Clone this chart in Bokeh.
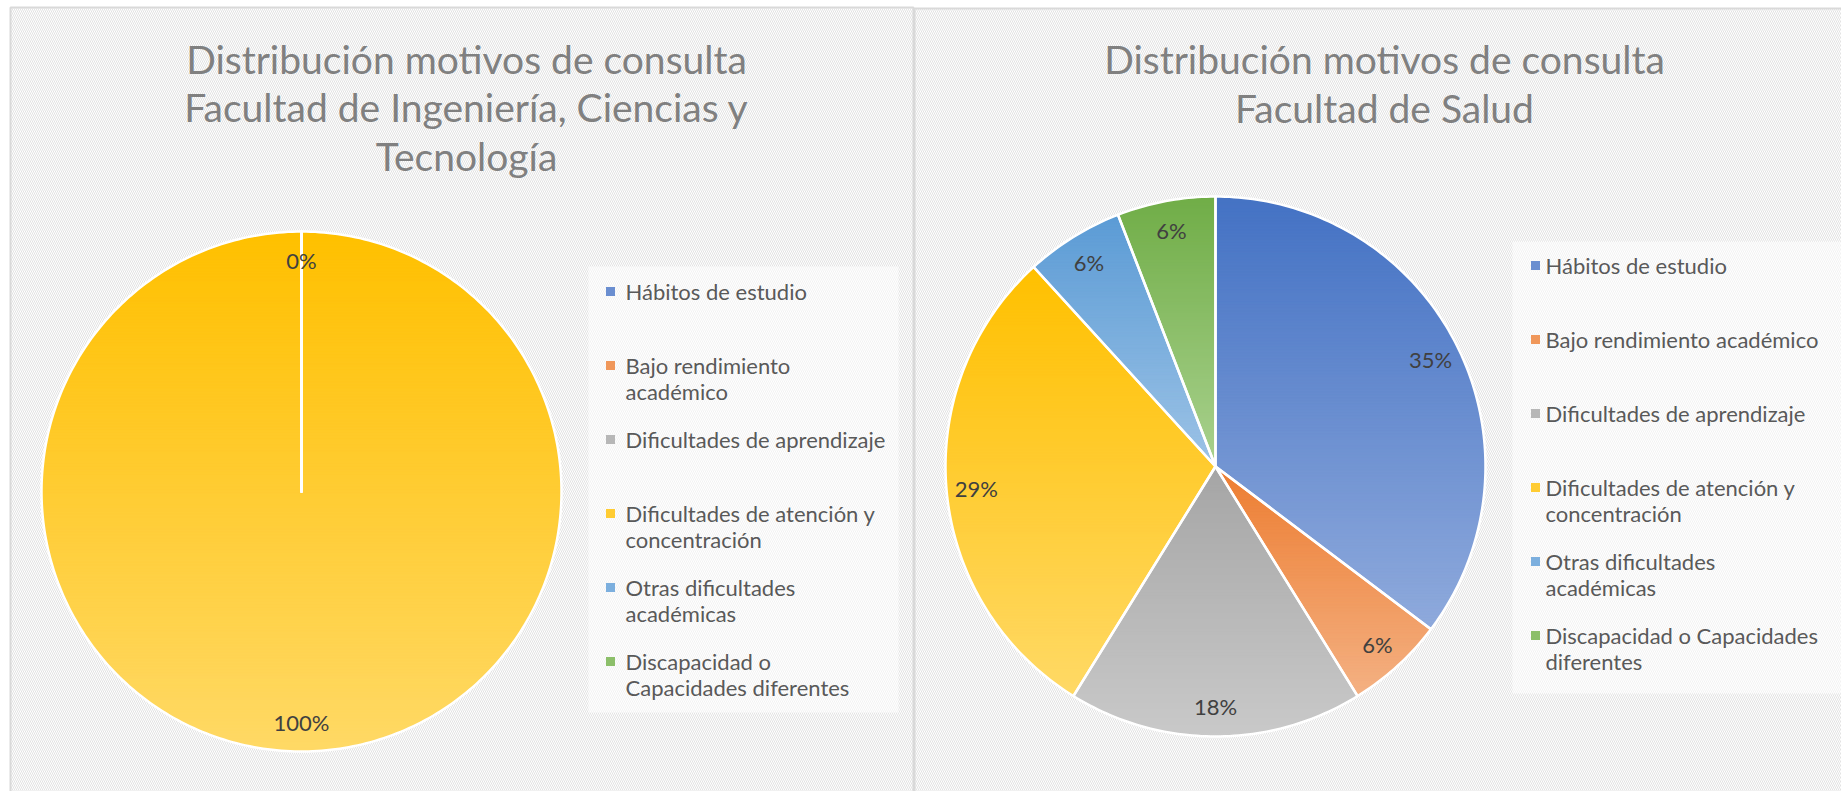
import numpy as np
from bokeh.plotting import figure
from bokeh.models import Range1d, ColumnDataSource
from bokeh.embed import file_html
from bokeh.resources import INLINE
from bokeh.core.properties import value

# ---------------- data ----------------
categories = [
    "Hábitos de estudio",
    "Bajo rendimiento académico",
    "Dificultades de aprendizaje",
    "Dificultades de atención y concentración",
    "Otras dificultades académicas",
    "Discapacidad o Capacidades diferentes",
]
ingenieria_counts = [0, 0, 0, 4, 0, 0]
salud_counts = [6, 1, 3, 5, 1, 1]

legend_labels_ingenieria = [
    "Hábitos de estudio",
    "Bajo rendimiento\nacadémico",
    "Dificultades de aprendizaje",
    "Dificultades de atención y\nconcentración",
    "Otras dificultades\nacadémicas",
    "Discapacidad o\nCapacidades diferentes",
]
legend_labels_salud = [
    "Hábitos de estudio",
    "Bajo rendimiento académico",
    "Dificultades de aprendizaje",
    "Dificultades de atención y\nconcentración",
    "Otras dificultades\nacadémicas",
    "Discapacidad o Capacidades\ndiferentes",
]
title_ingenieria = "Distribución motivos de consulta\nFacultad de Ingeniería, Ciencias y\nTecnología"
title_salud = "Distribución motivos de consulta\nFacultad de Salud"

# ---------------- styles ----------------
top_colors = ["#4472C4", "#ED7D31", "#A5A5A5", "#FFC000", "#5B9BD5", "#70AD47"]
bottom_colors = ["#8FAADC", "#F4B183", "#C9C9C9", "#FFD966", "#9DC3E6", "#A9D18E"]
FONT = "Lato"
LH = 1.24  # font metric height factor used by multi-line text


def hex2rgb(h):
    h = h.lstrip("#")
    return np.array([int(h[i:i + 2], 16) for i in (0, 2, 4)], dtype=float)


def mix(c0, c1, t):
    c = hex2rgb(c0) * (1 - t) + hex2rgb(c1) * t
    return "#%02x%02x%02x" % tuple(int(round(v)) for v in c)


def clip_half(poly, y0, keep_below):
    out = []
    n = len(poly)
    if n == 0:
        return out

    def inside(pt):
        return pt[1] >= y0 if keep_below else pt[1] <= y0

    for i in range(n):
        cur = poly[i]
        prev = poly[i - 1]
        ci, pi = inside(cur), inside(prev)
        if ci:
            if not pi:
                t = (y0 - prev[1]) / (cur[1] - prev[1])
                out.append((prev[0] + t * (cur[0] - prev[0]), y0))
            out.append(cur)
        elif pi:
            t = (y0 - prev[1]) / (cur[1] - prev[1])
            out.append((prev[0] + t * (cur[0] - prev[0]), y0))
    return out


def sector(cx, cy, r, a0, a1):
    n = max(2, int(np.degrees(a1 - a0)) + 2)
    ts = np.linspace(a0, a1, n)
    return [(cx, cy)] + [(cx + r * np.sin(t), cy - r * np.cos(t)) for t in ts]


def draw_pie(p, counts, cx, cy, r, label_frac=0.89):
    vals = np.array(counts, dtype=float)
    fr = vals / vals.sum()
    ends = np.cumsum(fr) * 2 * np.pi
    starts = ends - fr * 2 * np.pi
    band_xs, band_ys, band_cols = [], [], []
    out_xs, out_ys = [], []
    for i in range(len(vals)):
        poly = sector(cx, cy, r, starts[i], ends[i])
        out_xs.append([q[0] for q in poly])
        out_ys.append([q[1] for q in poly])
        if fr[i] <= 0:
            continue
        ys = [q[1] for q in poly]
        ymin, ymax = min(ys), max(ys)
        nb = max(2, int((ymax - ymin) / 3))
        edges = np.linspace(ymin, ymax, nb + 1)
        band_xs.append([q[0] for q in poly])
        band_ys.append(ys)
        band_cols.append(mix(top_colors[i], bottom_colors[i], 0.5))
        for k in range(nb):
            ya, yb = edges[k], min(ymax, edges[k + 1] + 0.6)
            part = clip_half(clip_half(poly, ya, True), yb, False)
            if len(part) < 3:
                continue
            t = ((edges[k] + edges[k + 1]) / 2 - ymin) / (ymax - ymin)
            band_xs.append([q[0] for q in part])
            band_ys.append([q[1] for q in part])
            band_cols.append(mix(top_colors[i], bottom_colors[i], t))
    p.patches(xs="xs", ys="ys", fill_color="c", line_color="c", line_width=0.6,
              source=ColumnDataSource(dict(xs=band_xs, ys=band_ys, c=band_cols)))
    p.patches(xs=out_xs, ys=out_ys, fill_color=None, line_color="white",
              line_width=2.5, line_join="round")
    lx, ly, lt = [], [], []
    seen = set()
    for i in range(len(vals)):
        mid = (starts[i] + ends[i]) / 2
        x = cx + label_frac * r * np.sin(mid)
        y = cy - label_frac * r * np.cos(mid)
        key = (round(x), round(y))
        if key in seen:
            continue
        seen.add(key)
        lx.append(x)
        ly.append(y)
        lt.append("%d%%" % round(fr[i] * 100))
    p.text(x=lx, y=ly, text=lt, text_font=value(FONT), text_font_size="22px",
           text_color="#404040", text_align="center", text_baseline="middle")


def draw_legend(p, labels, mx, tx, y0, pitch, line_h, fs=22):
    ys_marker, ys_text = [], []
    for i, lab in enumerate(labels):
        nl = lab.count("\n") + 1
        yl = y0 + i * pitch
        ys_marker.append(yl)
        ys_text.append(yl + (nl - 1) * line_h / 2)
    cols = [mix(a, b, 0.5) for a, b in zip(top_colors, bottom_colors)]
    p.scatter(x=[mx] * len(labels), y=ys_marker, marker="square", size=9,
              fill_color=cols, line_color=None)
    p.text(x=[tx] * len(labels), y=ys_text, text=labels, text_font=value(FONT),
           text_font_size="%dpx" % fs, text_color="#595959", text_align="left",
           text_baseline="middle", text_line_height=line_h / (fs * LH))


# ---------------- figure ----------------
W, H = 1841, 791
p = figure(width=W, height=H, x_range=Range1d(0, W), y_range=Range1d(H, 0),
           output_backend="svg", toolbar_location=None, min_border=0,
           x_axis_location=None, y_axis_location=None)
p.grid.visible = False
p.outline_line_color = None
p.background_fill_color = "white"
p.border_fill_color = "white"

# panels (hatched chart areas)
p.quad(left=[10, 914], right=[913, 1850], top=[7, 8], bottom=[800, 800],
       fill_color="white", hatch_pattern="\\", hatch_color="#e2e2e2",
       hatch_scale=4, hatch_weight=1.0, line_color="#d9d9d9", line_width=2)

# legend backgrounds
p.quad(left=[588, 1512], right=[898, 1845], top=[266, 241], bottom=[712, 693],
       fill_color="white", fill_alpha=0.55, line_color=None)

# pies
draw_pie(p, ingenieria_counts, 301, 491, 260)
draw_pie(p, salud_counts, 1215, 466, 270)

# titles
TFS = 39
p.text(x=[466], y=[107], text=[title_ingenieria], text_font=value(FONT),
       text_font_size="%dpx" % TFS, text_color="#808080", text_align="center",
       text_baseline="middle", text_line_height=51.5 / (TFS * LH))
p.text(x=[1384], y=[83], text=[title_salud], text_font=value(FONT),
       text_font_size="%dpx" % TFS, text_color="#808080", text_align="center",
       text_baseline="middle", text_line_height=51.5 / (TFS * LH))

# legends
draw_legend(p, legend_labels_ingenieria, 610, 625, 291, 74, 26.5)
draw_legend(p, legend_labels_salud, 1535, 1545, 265, 74, 26.5)

open("out.html", "w").write(file_html(p, INLINE))
